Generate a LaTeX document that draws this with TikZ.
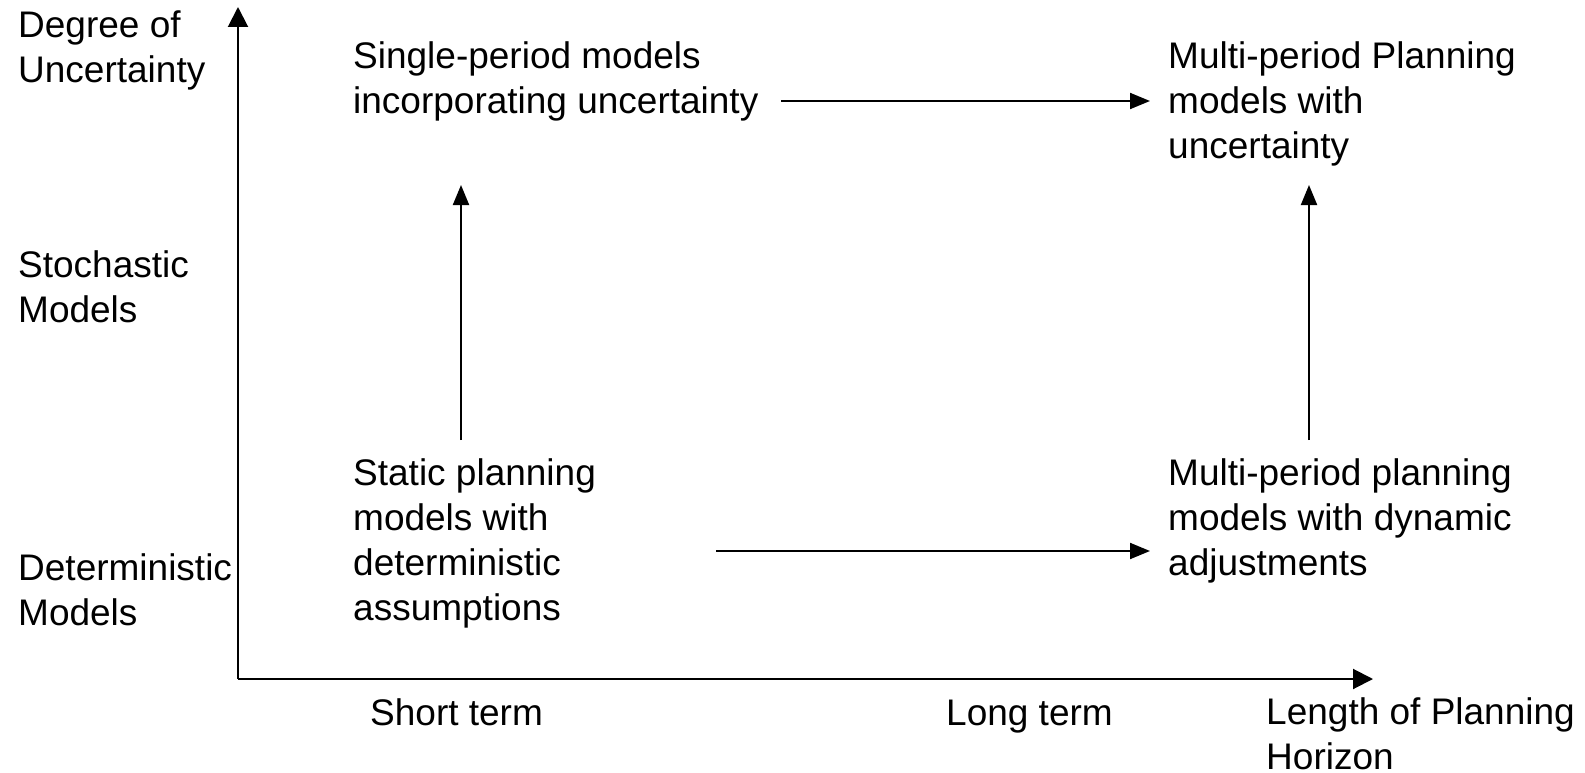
\documentclass[tikz,border=0pt]{standalone}
\usepackage{fontspec}
\setmainfont{Liberation Sans}
\usetikzlibrary{arrows.meta}
\begin{document}
\begin{tikzpicture}[x=1pt,y=-1pt,
  lbl/.style={anchor=base west,inner sep=0pt,align=left,font=\fontsize{37}{45}\selectfont},
  axis/.style={line width=2pt,-{Triangle[length=20pt,width=20pt]}},
  flow/.style={line width=2pt,-{Triangle[length=20pt,width=16pt]}}]
\useasboundingbox (0,0) rectangle (1585,773);
% labels (anchor = baseline of the last line)
\node[lbl] (yl) at (18,83) {Degree of\\Uncertainty};
\node[lbl] (st) at (18,322) {Stochastic\\Models};
\node[lbl] (de) at (18,625) {Deterministic\\Models};
\node[lbl] (sp) at (353,114) {Single-period models\\incorporating uncertainty};
\node[lbl] (mu) at (1168,159) {Multi-period Planning\\models with\\uncertainty};
\node[lbl] (sa) at (353,620) {Static planning\\models with\\deterministic\\assumptions};
\node[lbl] (md) at (1168,575) {Multi-period planning\\models with dynamic\\adjustments};
\node[lbl] (sh) at (370,725) {Short term};
\node[lbl] (lo) at (946,725) {Long term};
\node[lbl] (lh) at (1266,769) {Length of Planning\\Horizon};
% axes
\coordinate (o) at (238,679);
\coordinate (ytip) at (238,7);
\coordinate (xtip) at (1373,679);
\draw[axis] (o) -- (ytip);
\draw[axis] (o) -- (xtip);
% flow arrows
\coordinate (a1s) at (781,101);
\coordinate (a1e) at (1150,101);
\coordinate (a2s) at (716,551);
\coordinate (a2e) at (1150,551);
\coordinate (a3s) at (461,440);
\coordinate (a3e) at (461,185);
\coordinate (a4s) at (1309,440);
\coordinate (a4e) at (1309,185);
\draw[flow] (a1s) -- (a1e);
\draw[flow] (a2s) -- (a2e);
\draw[flow] (a3s) -- (a3e);
\draw[flow] (a4s) -- (a4e);
\end{tikzpicture}
\end{document}
